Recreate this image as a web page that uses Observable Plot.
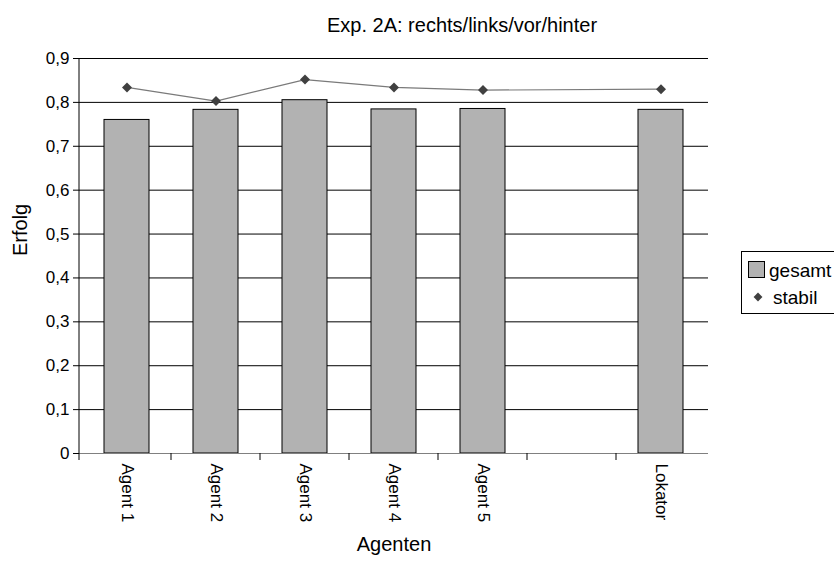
<!DOCTYPE html>
<html>
<head>
<meta charset="utf-8">
<script src="https://cdn.jsdelivr.net/npm/d3@7"></script>
<script src="https://cdn.jsdelivr.net/npm/@observablehq/plot@0.6"></script>
<style>
  html, body { margin: 0; padding: 0; background: #fff; }
  #chart svg { display: block; }
</style>
</head>
<body>
<div id="chart"></div>
<script>
// Success rates per agent, experiment 2A (right/left/front/behind)
const agents = ["Agent 1", "Agent 2", "Agent 3", "Agent 4", "Agent 5", "Lokator"];
const gesamt = [0.760, 0.783, 0.805, 0.784, 0.785, 0.783];
const stabil = [0.834, 0.803, 0.852, 0.834, 0.828, 0.830];
// x categories, with an empty slot before "Lokator"
const xDomain = ["Agent 1", "Agent 2", "Agent 3", "Agent 4", "Agent 5", "", "Lokator"];
const yTicks = [0, 0.1, 0.2, 0.3, 0.4, 0.5, 0.6, 0.7, 0.8, 0.9];

const rows = agents.map((a, i) => ({agent: a, gesamt: gesamt[i], stabil: stabil[i]}));
const fmt = d => d === 0 ? "0" : d.toFixed(1).replace(".", ",");
const font = "'Liberation Sans', Arial, sans-serif";

const chart = Plot.plot({
  width: 834,
  height: 561,
  marginLeft: 79,
  marginRight: 126,
  marginTop: 58,
  marginBottom: 108,
  style: {fontFamily: font, fontSize: "17px", background: "#fff", color: "#000"},
  x: {domain: xDomain, paddingInner: 0.5, paddingOuter: 0.25, label: null},
  y: {domain: [0, 0.9], label: null},
  marks: [
    Plot.ruleY(yTicks.filter(d => d > 0), {stroke: "#000", strokeWidth: 1}),
    Plot.barY(rows, {x: "agent", y: "gesamt", fill: "#b2b2b2", stroke: "#000", strokeWidth: 1}),
    Plot.ruleY([0], {stroke: "#808080", strokeWidth: 1.2}),
    Plot.line(rows, {x: "agent", y: "stabil", stroke: "#7a7a7a", strokeWidth: 1.2}),
    Plot.dot(rows, {x: "agent", y: "stabil", symbol: "diamond2", r: 4.5, fill: "#404040", stroke: "none"}),
    Plot.axisY({ticks: yTicks, tickSize: 6, tickPadding: 4, tickFormat: fmt, label: null, fontSize: 17}),
    Plot.axisX({tickSize: 0, tickPadding: 10, tickRotate: 90, label: null, fontSize: 17}),
    Plot.text(["Erfolg"], {frameAnchor: "left", rotate: -90, dx: -59, fontSize: 20}),
    Plot.text(["Agenten"], {frameAnchor: "bottom", dy: 97, fontSize: 20}),
    Plot.text(["Exp. 2A: rechts/links/vor/hinter"], {frameAnchor: "top", dx: 68, dy: -41, fontSize: 20})
  ]
});

document.getElementById("chart").append(chart);

// Axis line and category-boundary ticks, placed from the x scale
const sx = chart.scale("x");
const sy = chart.scale("y");
const svg = d3.select(chart);
const x0 = sx.range[0], x1 = sx.range[1];
const y0 = sy.apply(0), yTop = sy.apply(0.9);
svg.append("line")
  .attr("x1", x0).attr("x2", x0).attr("y1", yTop).attr("y2", y0 + 7)
  .attr("stroke", "#000");
const step = sx.step ?? (x1 - x0) / xDomain.length;
xDomain.forEach((d, i) => {
  if (i === 0) return;
  const bx = sx.apply(d) - (step - sx.bandwidth) / 2;
  svg.append("line")
    .attr("x1", bx).attr("x2", bx).attr("y1", y0).attr("y2", y0 + 7)
    .attr("stroke", "#000");
});

// Legend box at the right
const lg = svg.append("g")
  .attr("font-family", font).attr("font-size", 19).attr("text-anchor", "start");
lg.append("rect").attr("x", 741.5).attr("y", 251.5).attr("width", 120).attr("height", 62)
  .attr("fill", "#fff").attr("stroke", "#000");
lg.append("rect").attr("x", 748.5).attr("y", 261.5).attr("width", 16).attr("height", 16)
  .attr("fill", "#b2b2b2").attr("stroke", "#000");
lg.append("text").attr("x", 769).attr("y", 270).attr("dy", "0.35em").text("gesamt");
lg.append("path").attr("transform", "translate(758,297)")
  .attr("d", d3.symbol(d3.symbolDiamond2, 50)())
  .attr("fill", "#404040");
lg.append("text").attr("x", 773).attr("y", 297).attr("dy", "0.35em").text("stabil");
</script>
</body>
</html>
